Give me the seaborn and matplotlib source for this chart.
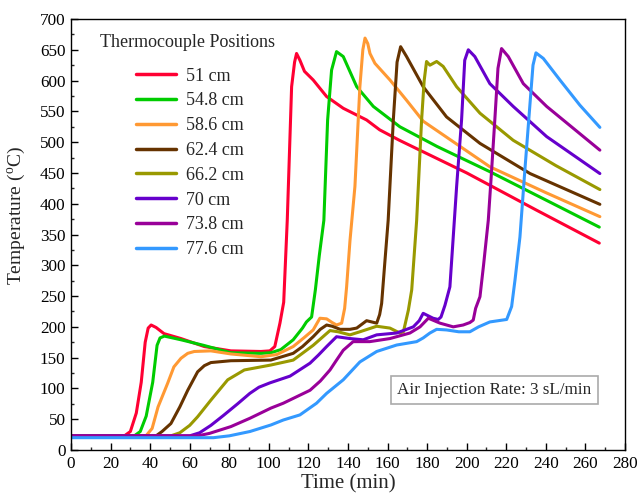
import numpy as np
import pandas as pd
import matplotlib
matplotlib.use("Agg")
import matplotlib.pyplot as plt
from matplotlib.ticker import MultipleLocator
import seaborn as sns

positions = ["51 cm", "54.8 cm", "58.6 cm", "62.4 cm", "66.2 cm", "70 cm", "73.8 cm", "77.6 cm"]
colors = ["#FF0033", "#00CC00", "#FF9933", "#663300", "#999900", "#6600CC", "#990099", "#3399FF"]

t_51 = [0, 27, 30, 33, 35.5, 37.5, 39, 40.5, 43, 47, 55.6, 67.4, 80.8, 96, 100.5, 103, 105.6, 107.5,
        109.3, 111.5, 113, 114, 115.7, 118, 122.4, 129.2, 137.6, 149.4, 156, 166, 200, 235, 267]
T_51 = [23, 23, 30, 60, 110, 175, 198, 203, 199, 189, 181, 168, 161, 160, 161, 168, 206, 240,
        373, 590, 630, 644, 633, 615, 601, 574, 555, 536, 520, 503, 450, 390, 336]

t_548 = [0, 32, 35, 38, 41.3, 43.5, 45, 47.2, 50, 55.6, 67, 80.8, 96, 101, 106, 112.3, 117, 119, 121.6,
         123.5, 125.5, 127.8, 129.7, 131.7, 134.2, 137.6, 144.4, 152.8, 166.2, 185, 211.7, 240, 267]
T_548 = [23, 23, 30, 55, 110, 170, 182, 185, 183, 179, 170, 158, 157, 158, 163, 179, 198, 208, 216,
         260, 316, 373, 536, 617, 647, 639, 590, 558, 525, 493, 452, 406, 362]

t_586 = [0, 37.9, 41, 44, 48.8, 52, 55.6, 59, 62.3, 70.7, 80.8, 96, 104, 112.3, 118, 122.4, 125.8, 129.2,
         132, 134.2, 136.8, 138.3, 139.3, 141, 143.5, 146, 147.5, 148.6, 150, 151.1, 153.6, 161.2, 169.6,
         178, 211.7, 240, 267.3]
T_586 = [23, 23, 35, 70, 108, 135, 149, 157, 160, 161, 156, 151.5, 155, 168, 183, 195, 214, 213,
         207, 203, 206, 230, 265, 340, 428, 590, 650, 669, 660, 644, 628, 601, 568,
         534, 460, 418, 379]

t_624 = [0, 43, 46, 50.5, 55, 59, 64, 67.4, 70.7, 80.8, 101, 112.3, 117, 122.4, 126, 129.2, 132, 136, 141,
         144.4, 149.4, 152, 154.5, 156, 157, 158.5, 160.3, 162.9, 164.8, 166.6, 169.6, 178, 189.8,
         206.7, 232, 267.3]
T_624 = [23, 23, 30, 43, 70, 97, 127, 137, 142, 145, 146, 157, 168, 184, 196, 203, 201, 196, 196,
         198, 210, 208, 206, 220, 238, 300, 373, 536, 630, 655, 639, 590, 541,
         498, 449, 399]

t_662 = [0, 50.5, 55, 60, 64, 70.7, 79.2, 87.6, 101, 112.3, 122.4, 127, 130.9, 135, 141, 146, 154.5,
         161.2, 166.2, 168, 170.5, 172.2, 174.7, 177.2, 178.5, 179.7, 181.4, 184.8, 188.1, 194.9,
         206.7, 223.5, 245, 267.3]
T_662 = [23, 23, 28, 40, 54, 81, 114, 130, 138, 146, 170, 183, 194, 192, 187, 192, 201,
         198, 190, 192, 227, 260, 373, 536, 600, 631, 625, 631, 623, 590,
         547, 503, 462, 423]

t_70 = [0, 60, 65, 70.7, 77, 84.2, 90.4, 95, 100.5, 110.7, 120.8, 125, 129.2, 134.2, 141, 147.7, 154.5,
        164.6, 173, 176, 178, 180.5, 183, 185.6, 187, 189, 191.5, 194.9, 197.4, 199, 200.8, 204.1,
        211.7, 223.5, 240.4, 267.3]
T_70 = [23, 23, 28, 40, 56, 75, 92, 102, 109, 120, 141, 154, 168, 184, 181, 179, 187,
        190, 200, 210, 222, 218, 214, 212, 216, 235, 265, 428, 536, 633, 650, 639,
        595, 558, 509, 449]

t_738 = [0, 64, 70, 80.8, 90.4, 101, 107.3, 120.8, 126, 130.9, 134, 137.6, 142.6, 151, 161.2, 171.3,
         176.4, 180.6, 186.5, 193.2, 198.2, 201.6, 203.3, 204.5, 206.7, 208.5, 210.9, 212.5, 214.2,
         215.8, 217.6, 221, 228.6, 240.4, 267.3]
T_738 = [23, 23, 27, 38, 51.5, 68, 76, 97, 112, 130, 145, 162, 176, 176, 181, 190,
         200, 214, 206, 200, 203, 207, 211, 230, 249, 300, 373, 450, 536,
         620, 652, 639, 595, 558, 487]

t_776 = [0, 72, 80, 90.4, 101, 107.3, 115.7, 124.1, 129.2, 137.6, 146, 154.5, 164.6, 174.7, 178,
         181.4, 184.8, 189.8, 196, 201.6, 206, 211.7, 220.2, 222.7, 224.4, 226.9, 229.4, 232, 233.5,
         235, 238.7, 247.1, 257.2, 267.3]
T_776 = [20, 20, 23, 30, 40.6, 48.7, 57, 76, 92, 114, 143, 160, 170.5, 176, 182,
         190, 196, 195, 192, 192, 200, 208, 212, 233, 276, 346, 455, 563, 625,
         645, 636, 601, 560, 524]

times = [t_51, t_548, t_586, t_624, t_662, t_70, t_738, t_776]
temps = [T_51, T_548, T_586, T_624, T_662, T_70, T_738, T_776]

x_ticks = list(range(0, 281, 20))
y_ticks = list(range(0, 701, 50))

rows = []
for pos, tt, TT in zip(positions, times, temps):
    for a, b in zip(tt, TT):
        rows.append((pos, a, b))
df = pd.DataFrame(rows, columns=["Position", "Time", "Temperature"])

sns.set_theme(style="ticks")
plt.rcParams["font.family"] = ["Liberation Serif", "DejaVu Serif"]
plt.rcParams["mathtext.fontset"] = "custom"
plt.rcParams["mathtext.rm"] = "Liberation Serif"
plt.rcParams["mathtext.it"] = "Liberation Serif:italic"

fig = plt.figure(figsize=(6.44, 4.99), dpi=100)
ax = fig.add_axes([71 / 644, 1 - 450 / 499, (625 - 71) / 644, (450 - 19) / 499])

sns.lineplot(data=df, x="Time", y="Temperature", hue="Position", hue_order=positions,
             palette=dict(zip(positions, colors)), estimator=None, sort=False,
             linewidth=2.2, ax=ax, legend=True)
for ln in ax.get_lines():
    ln.set_solid_joinstyle("round")
    ln.set_solid_capstyle("round")

ax.set_xlim(0, 280)
ax.set_ylim(0, 700)
ax.set_xticks(x_ticks)
ax.set_yticks(y_ticks)
ax.xaxis.set_minor_locator(MultipleLocator(10))
ax.yaxis.set_minor_locator(MultipleLocator(25))
ax.tick_params(axis="both", which="major", direction="in", length=5, width=1, labelsize=12.3,
               colors="black", top=False, right=False, pad=4)
ax.tick_params(axis="both", which="minor", direction="in", length=2.5, width=1, top=False, right=False)
for s in ax.spines.values():
    s.set_color("black")
    s.set_linewidth(1.0)

ax.set_xlabel("Time (min)", fontsize=15, labelpad=2)
ax.set_ylabel("Temperature ($^{\\rm o}$C)", fontsize=14)
ax.yaxis.set_label_coords(-0.080, 0.545)

h, l = ax.get_legend_handles_labels()
leg = ax.legend(h, l, loc="upper left", bbox_to_anchor=(0.118, 0.887), frameon=False,
                fontsize=13, handlelength=2.2, handletextpad=0.55, labelspacing=0.43,
                borderpad=0, borderaxespad=0)
for line in leg.get_lines():
    line.set_linewidth(2.5)

ax.text(0.052, 0.966, "Thermocouple Positions", transform=ax.transAxes, fontsize=13,
        ha="left", va="top")

ax.text(214, 98, "Air Injection Rate: 3 sL/min", fontsize=12.3, ha="center", va="center",
        bbox=dict(boxstyle="square,pad=0.35", facecolor="white", edgecolor="#aaaaaa", linewidth=1.2))

fig.savefig("out.png", dpi=100)
